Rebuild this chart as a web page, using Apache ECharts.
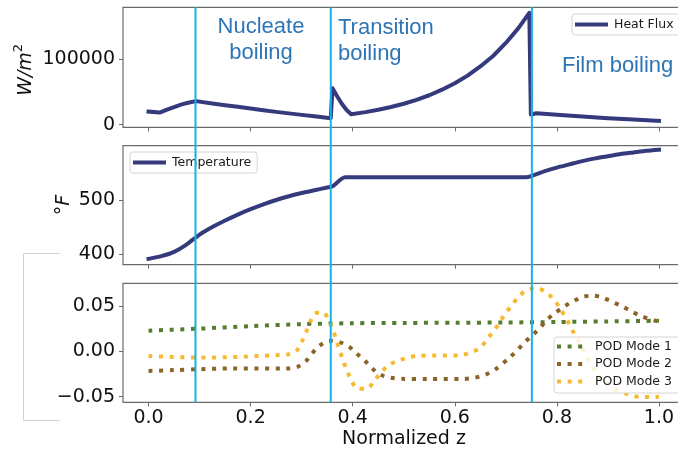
<!DOCTYPE html>
<html>
<head>
<meta charset="utf-8">
<script src="https://cdn.jsdelivr.net/npm/echarts@6/dist/echarts.min.js"></script>
<style>
  html, body { margin: 0; padding: 0; background: #ffffff; }
  #chart { width: 678px; height: 451px; }
</style>
</head>
<body>
<div id="chart"></div>
<script>
// Axial profiles along the heated channel: heat flux, wall temperature and POD modes.
const xTicks = [0, 0.2, 0.4, 0.6, 0.8, 1.0];
const heatFluxTicks = [0, 100000];
const tempTicks = [400, 500];
const podTicks = [-0.05, 0, 0.05];

// Boiling regime boundaries (normalized z)
const transitionZ = [0.092, 0.357, 0.751];

const heatFluxZ = [0, 0.022, 0.035, 0.05, 0.065, 0.08, 0.093, 0.125, 0.15, 0.175, 0.2, 0.225, 0.25, 0.275, 0.3, 0.325, 0.357,
  0.3605, 0.368, 0.378, 0.388, 0.397, 0.425, 0.45, 0.475, 0.5, 0.525, 0.55, 0.575, 0.6, 0.625, 0.65, 0.675, 0.7, 0.725, 0.746,
  0.749, 0.76, 0.8, 0.85, 0.9, 0.95, 1.0];
const heatFlux = [20000, 18500, 22500, 27000, 31000, 34000, 36000, 32300, 29800, 27300, 24800, 22200, 19600, 17300, 15000, 12800, 10000,
  55600, 45400, 32700, 22500, 16000, 19200, 22800, 27000, 32000, 38000, 45000, 53500, 63500, 75000, 89000, 105000, 125000, 148000, 171000,
  15500, 17500, 15200, 12500, 10000, 7800, 5800];

const tempZ = [0, 0.025, 0.05, 0.075, 0.1, 0.125, 0.15, 0.175, 0.2, 0.225, 0.25, 0.275, 0.3, 0.325, 0.35, 0.36, 0.385,
  0.74, 0.775, 0.8, 0.825, 0.85, 0.875, 0.9, 0.925, 0.95, 0.975, 1.0];
const temperature = [391, 396, 404, 418, 436, 450, 462, 473, 483, 492, 500, 507, 513, 518, 523, 525, 542,
  542, 553, 560, 566, 572, 577, 581, 585, 588, 591, 593];

const mode1Z = [0, 0.1, 0.2, 0.3, 0.4, 0.5, 0.6, 0.7, 0.8, 0.9, 1.0];
const mode1 = [0.0228, 0.0250, 0.0278, 0.0300, 0.0310, 0.0313, 0.0315, 0.0318, 0.0323, 0.0330, 0.0337];

const mode2Z = [0, 0.05, 0.1, 0.165, 0.27, 0.291, 0.308, 0.32, 0.335, 0.354, 0.373, 0.392, 0.408, 0.424, 0.438, 0.455, 0.474, 0.495,
  0.55, 0.616, 0.639, 0.659, 0.678, 0.708, 0.724, 0.737, 0.754, 0.767, 0.78, 0.796, 0.816, 0.832, 0.851, 0.871, 0.89, 0.91, 0.929,
  0.946, 0.963, 0.992, 1.0];
const mode2 = [-0.0217, -0.0207, -0.0197, -0.0188, -0.0190, -0.0173, -0.0110, -0.0026, 0.0062, 0.0117, 0.0103, 0.0055, -0.0026,
  -0.0104, -0.0188, -0.0258, -0.0291, -0.0303, -0.0306, -0.0305, -0.0290, -0.0260, -0.0206, -0.0066, 0.0022, 0.0099, 0.0188, 0.0260,
  0.0345, 0.0420, 0.0500, 0.0552, 0.0601, 0.0614, 0.0590, 0.0542, 0.0492, 0.0441, 0.0393, 0.0338, 0.0328];

const mode3Z = [0, 0.1, 0.165, 0.25, 0.27, 0.289, 0.299, 0.308, 0.316, 0.325, 0.342, 0.354, 0.362, 0.368, 0.375, 0.381, 0.389, 0.397,
  0.41, 0.428, 0.442, 0.455, 0.469, 0.489, 0.508, 0.528, 0.61, 0.629, 0.649, 0.662, 0.675, 0.688, 0.698, 0.711, 0.724, 0.739, 0.759,
  0.776, 0.793, 0.806, 0.825, 0.835, 0.845, 0.855, 0.865, 0.875, 0.886, 0.9, 0.917, 0.943, 0.963, 0.985, 1.0];
const mode3 = [-0.0052, -0.0068, -0.0063, -0.0042, -0.0037, 0.0000, 0.0092, 0.0202, 0.0312, 0.0412, 0.0430, 0.0331, 0.0227, 0.0117,
  0.0007, -0.0104, -0.0210, -0.0320, -0.0413, -0.0413, -0.0324, -0.0240, -0.0155, -0.0104, -0.0071, -0.0049, -0.0044, -0.0015, 0.0033,
  0.0125, 0.0216, 0.0316, 0.0412, 0.0500, 0.0596, 0.0669, 0.0699, 0.0662, 0.0577, 0.0478, 0.0294, 0.0183, 0.0084, -0.0026, -0.0122,
  -0.0220, -0.0313, -0.0368, -0.0430, -0.0479, -0.0504, -0.0504, -0.0500];

// Axis extents (with the usual 5% data margins)
const xRange = [-0.05, 1.05];
const heatFluxRange = [-4000, 179500];
const tempRange = [380.2, 600.5];
const podRange = [-0.0562, 0.075];

const pairs = (zs, vs) => zs.map((z, i) => [z, vs[i]]);

const FONT = 'DejaVu Sans';
const FRAME = '#6b6b6b';
const INK = '#111111';
const NAVY = '#353a7c';
const CYAN = '#12b2ea';
const NOTE = '#2e75b6';

// The right-hand part of the frame runs past the canvas edge
const gridBase = {
  left: 123, width: 561.5, containLabel: false, outerBoundsMode: 'none',
  show: true, borderColor: FRAME, borderWidth: 1.2, backgroundColor: 'transparent'
};
const grids = [
  Object.assign({ top: 7.3, height: 120 }, gridBase),
  Object.assign({ top: 145.7, height: 119 }, gridBase),
  Object.assign({ top: 283.3, height: 119 }, gridBase)
];

function xAxisFor(i, showLabels) {
  return {
    type: 'value', gridIndex: i, min: xRange[0], max: xRange[1], position: 'bottom',
    axisLine: { show: false, onZero: false },
    splitLine: { show: false },
    axisTick: { show: true, inside: false, length: 4, lineStyle: { color: FRAME, width: 1 }, customValues: xTicks },
    axisLabel: {
      show: showLabels, customValues: xTicks, margin: 6,
      fontFamily: FONT, fontSize: 19, color: INK,
      formatter: v => v.toFixed(1)
    }
  };
}

function yAxisFor(i, range, ticks, fmt) {
  return {
    type: 'value', gridIndex: i, min: range[0], max: range[1], position: 'left',
    axisLine: { show: false, onZero: false },
    splitLine: { show: false },
    axisTick: { show: true, inside: false, length: 4, lineStyle: { color: FRAME, width: 1 }, customValues: ticks },
    axisLabel: { show: true, customValues: ticks, margin: 8, fontFamily: FONT, fontSize: 19, color: INK, formatter: fmt }
  };
}

const legendBase = {
  backgroundColor: 'rgba(255,255,255,0.8)',
  borderColor: '#d4d4d4', borderWidth: 1, borderRadius: 3,
  itemWidth: 29, itemHeight: 14,
  lineStyle: { width: 4 },
  itemStyle: { opacity: 0, color: 'rgba(0,0,0,0)', borderWidth: 0 },
  textStyle: { fontFamily: FONT, fontSize: 12.5, color: '#1a1a1a', padding: [0, 0, 0, 3] },
  selectedMode: false
};

const podDots = (color, zs, vs, name) => ({
  name: name, type: 'line', xAxisIndex: 2, yAxisIndex: 2,
  data: pairs(zs, vs), symbol: 'none', smooth: 0.3,
  color: color,
  lineStyle: { color: color, width: 4, type: [4, 6.6], cap: 'butt' }
});

const option = {
  animation: false,
  backgroundColor: '#ffffff',
  grid: grids,
  xAxis: [xAxisFor(0, false), xAxisFor(1, false), xAxisFor(2, true)],
  yAxis: [
    yAxisFor(0, heatFluxRange, heatFluxTicks, v => String(Math.round(v))),
    yAxisFor(1, tempRange, tempTicks, v => String(Math.round(v))),
    yAxisFor(2, podRange, podTicks, v => (v < -1e-9 ? '\u2212' : '') + Math.abs(v).toFixed(2))
  ],
  legend: [
    Object.assign({}, legendBase, { data: ['Heat Flux'], left: 572, top: 14, padding: [4, 8, 4, 3] }),
    Object.assign({}, legendBase, { data: ['Temperature'], left: 130, top: 152, padding: [4, 6, 4, 3] }),
    Object.assign({}, legendBase, {
      data: ['POD Mode 1', 'POD Mode 2', 'POD Mode 3'], orient: 'vertical',
      left: 554, top: 337, padding: [3, 8, 5, 1], itemWidth: 30, itemGap: 4.5
    })
  ],
  series: [
    {
      name: 'Heat Flux', type: 'line', xAxisIndex: 0, yAxisIndex: 0,
      data: pairs(heatFluxZ, heatFlux), symbol: 'none', color: NAVY,
      lineStyle: { color: NAVY, width: 4, join: 'round', cap: 'square' }
    },
    {
      name: 'Temperature', type: 'line', xAxisIndex: 1, yAxisIndex: 1,
      data: pairs(tempZ, temperature), symbol: 'none', smooth: 0.2, color: NAVY,
      lineStyle: { color: NAVY, width: 4, join: 'round', cap: 'square' }
    },
    podDots('#557d2d', mode1Z, mode1, 'POD Mode 1'),
    podDots('#8c6428', mode2Z, mode2, 'POD Mode 2'),
    podDots('#f5b932', mode3Z, mode3, 'POD Mode 3')
  ]
};

const chart = echarts.init(document.getElementById('chart'), null, { renderer: 'canvas' });
chart.setOption(option);

// Regime boundary lines run through all three panels
const yTop = chart.convertToPixel({ yAxisIndex: 0 }, heatFluxRange[1]);
const yBottom = chart.convertToPixel({ yAxisIndex: 2 }, podRange[0]);
const boundaryLines = transitionZ.map(z => {
  const x = chart.convertToPixel({ xAxisIndex: 0 }, z);
  return { type: 'line', z: 100, shape: { x1: x, y1: yTop, x2: x, y2: yBottom }, style: { stroke: CYAN, lineWidth: 2 } };
});

const noteStyle = { fill: NOTE, fontFamily: 'Liberation Sans', fontSize: 22, lineHeight: 26 };

chart.setOption({
  graphic: {
    elements: [
      // side bracket
      { type: 'polyline', z: 1, shape: { points: [[60, 253.5], [23.5, 253.5], [23.5, 420.5], [60, 420.5]] },
        style: { stroke: '#d2d2d2', lineWidth: 1, fill: null } },
      // axis titles
      { type: 'text', x: 26, y: 74, rotation: Math.PI / 2, z: 10,
        style: { text: 'W/m', fontFamily: FONT, fontStyle: 'italic', fontSize: 19, fill: INK, align: 'center', verticalAlign: 'middle' } },
      { type: 'text', x: 19, y: 48, rotation: Math.PI / 2, z: 10,
        style: { text: '2', fontFamily: FONT, fontSize: 13, fill: INK, align: 'center', verticalAlign: 'middle' } },
      { type: 'text', x: 64, y: 205, rotation: Math.PI / 2, z: 10,
        style: { text: '{a|\u00b0}{b|F}', align: 'center', verticalAlign: 'middle',
          rich: { a: { fontFamily: FONT, fontSize: 19, fill: INK }, b: { fontFamily: FONT, fontSize: 19, fontStyle: 'italic', fill: INK } } } },
      { type: 'text', x: 404, y: 439, z: 10,
        style: { text: 'Normalized z', fontFamily: FONT, fontSize: 19, fill: INK, align: 'center', verticalAlign: 'middle' } },
      // regime labels
      { type: 'text', x: 261, y: 40, z: 10,
        style: Object.assign({ text: 'Nucleate\nboiling', align: 'center', verticalAlign: 'middle' }, noteStyle) },
      { type: 'text', x: 338, y: 40.5, z: 10,
        style: Object.assign({ text: 'Transition\nboiling', align: 'left', verticalAlign: 'middle' }, noteStyle) },
      { type: 'text', x: 562, y: 66, z: 10,
        style: Object.assign({ text: 'Film boiling', align: 'left', verticalAlign: 'middle' }, noteStyle) }
    ].concat(boundaryLines)
  }
});
</script>
</body>
</html>
